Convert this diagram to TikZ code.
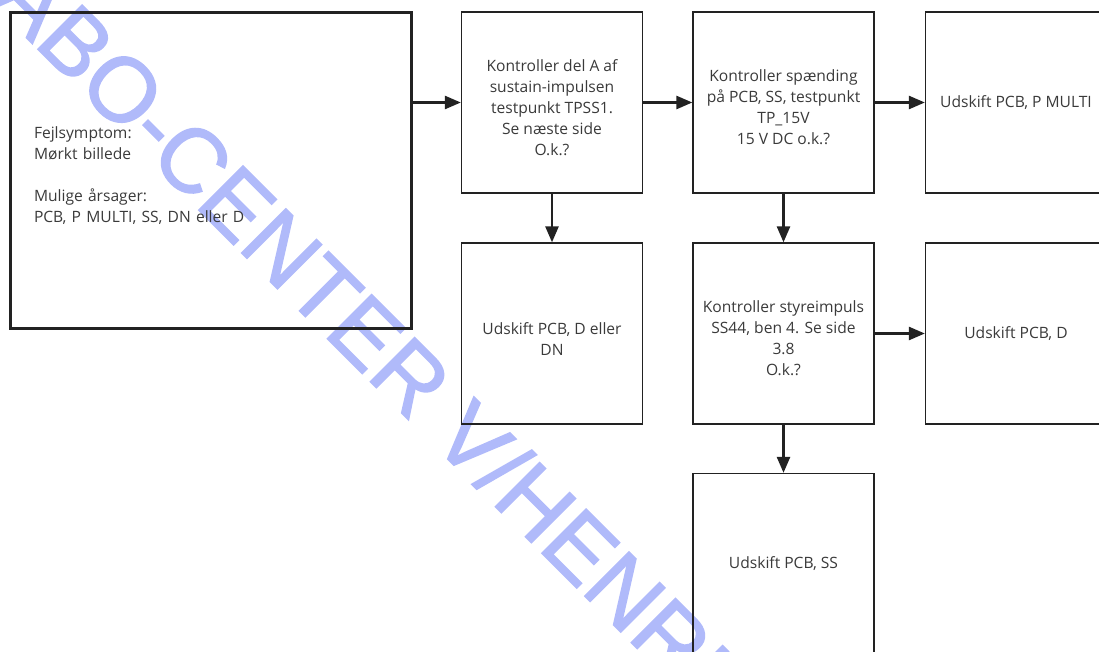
\documentclass[tikz,border=0pt]{standalone}
\usepackage{fontspec}
\setmainfont{Open Sans}
\newfontfamily\wmfont[FakeBold=1.5]{Liberation Sans}
\usetikzlibrary{arrows.meta}
\definecolor{linegray}{HTML}{222222}
\definecolor{textgray}{HTML}{3A3A3A}
\definecolor{wmblue}{RGB}{176,186,250}
% a taller first line sets multi-line texts a little lower in their box
\newcommand\lowstrut{\rule{0pt}{22pt}}
\begin{document}
\begin{tikzpicture}[x=1pt,y=-1pt,
  every node/.style={font=\fontsize{15.6}{21}\selectfont, text=textgray},
  stepbox/.style={draw=linegray, line width=1.3pt, minimum width=181pt,
    minimum height=181pt, inner sep=0pt, align=center},
  bigbox/.style={draw=linegray, line width=3pt, minimum width=401pt,
    minimum height=316pt, inner sep=0pt, text width=354pt, align=left},
  arr/.style={draw=linegray, line width=2.6pt,
    -{Triangle[length=16pt,width=13pt]}},
  watermark/.style={font=\wmfont\fontsize{91}{91}\selectfont,
    text=wmblue, inner sep=0pt, rotate=-45, anchor=base west}]
\useasboundingbox (0,0) rectangle (1099,652);
\clip (0,0) rectangle (1099,652);

% stamp across the page, under the chart
\node[watermark] (stamp) at (-10.5,0.9) {ABO-CENTER V/HENRI};

% symptom box
\node[bigbox] (sym) at (211,170.5)
  {\lowstrut Fejlsymptom:\\Mørkt billede\\[21pt]Mulige årsager:\\PCB, P MULTI, SS, DN eller D};

% check and replace steps
\node[stepbox] (chkA) at (552,102.5)
  {\lowstrut Kontroller del A af\\sustain-impulsen\\testpunkt TPSS1.\\Se næste side\\O.k.?};
\node[stepbox] (chkV) at (783.5,102.5)
  {\lowstrut Kontroller spænding\\på PCB, SS, testpunkt\\TP\_15V\\15 V DC o.k.?};
\node[stepbox] (repP) at (1016,102.5) {Udskift PCB, P MULTI};
\node[stepbox] (repDN) at (552,333.5) {\lowstrut Udskift PCB, D eller\\DN};
\node[stepbox] (chkS) at (783.5,333.5)
  {\lowstrut Kontroller styreimpuls\\SS44, ben 4. Se side\\3.8\\O.k.?};
\node[stepbox] (repD) at (1016,333.5) {Udskift PCB, D};
\node[stepbox] (repSS) at (783.5,564) {Udskift PCB, SS};

% connectors
\draw[arr] (chkA.west -| sym.east) -- (chkA.west);
\draw[arr] (chkA) -- (chkV);
\draw[arr] (chkV) -- (repP);
\draw[arr] (chkA) -- (repDN);
\draw[arr] (chkV) -- (chkS);
\draw[arr] (chkS) -- (repD);
\draw[arr] (chkS) -- (repSS);
\end{tikzpicture}
\end{document}
